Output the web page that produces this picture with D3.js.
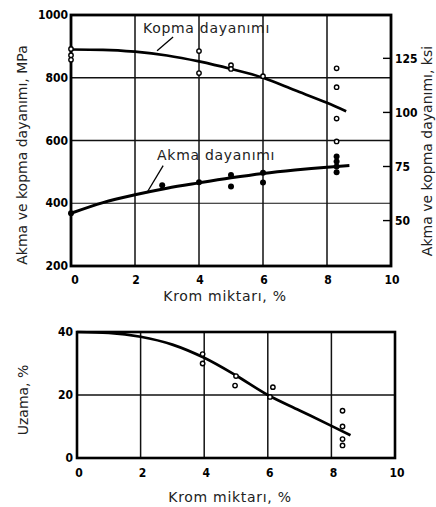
<!DOCTYPE html>
<html>
<head>
<meta charset="utf-8">
<script src="https://cdn.jsdelivr.net/npm/d3@7"></script>
<style>
  body { margin: 0; background: #fff; }
  text { fill: #111; }
  .tick-label { font-family: "DejaVu Sans Condensed", "DejaVu Sans", sans-serif; font-weight: bold; font-size: 12px; fill: #000; }
  .title { font-family: "DejaVu Sans", sans-serif; font-size: 14px; fill: #222; }
  .wide { letter-spacing: 0.7px; }
</style>
</head>
<body>
<script>
const w = 436;
const h = 507;

// x ticks shared by both panels (Krom miktarı, %)
const xTicks = [0, 2, 4, 6, 8, 10];
const strengthTicks = [200, 400, 600, 800, 1000];
const ksiTicks = [50, 75, 100, 125];
const elongTicks = [0, 20, 40];

// Kopma dayanımı (tensile) curve + points, MPa
const tensileCurveX = [0, 1, 2, 3, 4, 5, 6, 7, 8, 8.6];
const tensileCurveY = [890, 889, 883, 871, 852, 828, 800, 760, 720, 693];
const tensilePtsX = [0, 0, 0, 4, 4, 5, 5, 6, 8.3, 8.3, 8.3, 8.3];
const tensilePtsY = [892, 872, 857, 885, 815, 840, 828, 805, 830, 770, 670, 597];

// Akma dayanımı (yield) curve + points, MPa
const yieldCurveX = [0, 1, 2, 3, 4, 5, 6, 7, 8, 8.7];
const yieldCurveY = [368, 402, 427, 448, 465, 481, 495, 506, 515, 520];
const yieldPtsX = [0, 2.85, 4, 5, 5, 6, 6, 8.3, 8.3, 8.3, 8.3];
const yieldPtsY = [368, 457, 467, 490, 453, 497, 466, 549, 533, 517, 499];

// Uzama (elongation) curve + points, %
const elongCurveX = [0, 1, 2, 3, 4, 5, 6, 7, 8, 8.6];
const elongCurveY = [40, 39.7, 38.5, 36, 31.8, 26.2, 20, 15.1, 10.2, 7.2];
const elongPtsX = [3.95, 3.95, 5, 4.97, 6.07, 6.16, 8.35, 8.35, 8.35, 8.35];
const elongPtsY = [33, 30, 26, 23, 19.4, 22.5, 15, 10, 6, 4];

const MPA_PER_KSI = 6.895;

let svg = d3.select("body")
            .append("svg")
            .attr("width", w)
            .attr("height", h);

function zip(xs, ys) { return xs.map((v, i) => [v, ys[i]]); }

// ---------- upper panel ----------
let x1 = d3.scaleLinear().domain([0, 10]).range([71, 391]);
let y1 = d3.scaleLinear().domain([200, 1000]).range([266, 15]);

let upper = svg.append("g");

// grid
upper.selectAll(".vg").data([2, 4, 6, 8]).enter().append("line")
   .attr("x1", d => x1(d)).attr("x2", d => x1(d))
   .attr("y1", y1(1000)).attr("y2", y1(200))
   .attr("stroke", "#111").attr("stroke-width", 1.5);
upper.selectAll(".hg").data([400, 600, 800]).enter().append("line")
   .attr("x1", x1(0)).attr("x2", x1(10))
   .attr("y1", d => y1(d)).attr("y2", d => y1(d))
   .attr("stroke", "#111").attr("stroke-width", d => d === 400 ? 1 : 1.5);

// frame
upper.append("rect")
   .attr("x", x1(0)).attr("y", y1(1000))
   .attr("width", x1(10) - x1(0)).attr("height", y1(200) - y1(1000))
   .attr("fill", "none").attr("stroke", "#000").attr("stroke-width", 2.8);

// ksi ticks on right side
upper.selectAll(".kt").data(ksiTicks).enter().append("line")
   .attr("x1", x1(10) - 8).attr("x2", x1(10))
   .attr("y1", d => y1(d * MPA_PER_KSI)).attr("y2", d => y1(d * MPA_PER_KSI))
   .attr("stroke", "#000").attr("stroke-width", 1.4);
upper.selectAll(".kl").data(ksiTicks).enter().append("text")
   .attr("class", "tick-label")
   .attr("x", x1(10) + 4).attr("y", d => y1(d * MPA_PER_KSI))
   .attr("dy", "0.35em")
   .text(d => d);

// left tick labels
upper.selectAll(".sl").data(strengthTicks).enter().append("text")
   .attr("class", "tick-label")
   .attr("x", x1(0) - 3).attr("y", d => y1(d))
   .attr("dy", "0.35em").attr("text-anchor", "end")
   .text(d => d);

// x tick labels
upper.selectAll(".xl").data(xTicks).enter().append("text")
   .attr("class", "tick-label")
   .attr("x", d => x1(d) + (d === 0 ? 4 : 1)).attr("y", 284)
   .attr("text-anchor", "middle")
   .text(d => d);

upper.append("text").attr("class", "title wide")
   .attr("x", 225).attr("y", 301).attr("text-anchor", "middle")
   .text("Krom miktarı, %");

upper.append("text").attr("class", "title")
   .attr("transform", "translate(27,155) rotate(-90)")
   .attr("text-anchor", "middle")
   .text("Akma ve kopma dayanımı, MPa");

upper.append("text").attr("class", "title")
   .attr("transform", "translate(432,151) rotate(-90)")
   .attr("text-anchor", "middle")
   .text("Akma ve kopma dayanımı, ksi");

let line1 = d3.line().x(d => x1(d[0])).y(d => y1(d[1])).curve(d3.curveMonotoneX);

upper.append("path").datum(zip(tensileCurveX, tensileCurveY))
   .attr("d", line1).attr("fill", "none").attr("stroke", "#000").attr("stroke-width", 2.7);
upper.append("path").datum(zip(yieldCurveX, yieldCurveY))
   .attr("d", line1).attr("fill", "none").attr("stroke", "#000").attr("stroke-width", 3);

upper.selectAll(".tp").data(zip(tensilePtsX, tensilePtsY)).enter().append("circle")
   .attr("cx", d => x1(d[0])).attr("cy", d => y1(d[1])).attr("r", 2.2)
   .attr("fill", "#fff").attr("stroke", "#000").attr("stroke-width", 1.4);
upper.selectAll(".yp").data(zip(yieldPtsX, yieldPtsY)).enter().append("circle")
   .attr("cx", d => x1(d[0])).attr("cy", d => y1(d[1])).attr("r", 3)
   .attr("fill", "#000");

// annotations
upper.append("text").attr("class", "title wide")
   .attr("x", x1(2.25)).attr("y", y1(942)).text("Kopma dayanımı");
upper.append("line")
   .attr("x1", x1(3.19)).attr("y1", y1(930)).attr("x2", x1(2.69)).attr("y2", y1(886))
   .attr("stroke", "#000").attr("stroke-width", 1.3);
upper.append("text").attr("class", "title wide")
   .attr("x", x1(2.69)).attr("y", y1(537)).text("Akma dayanımı");
upper.append("line")
   .attr("x1", x1(2.88)).attr("y1", y1(520)).attr("x2", x1(2.38)).attr("y2", y1(435))
   .attr("stroke", "#000").attr("stroke-width", 1.3);

// ---------- lower panel ----------
let x2 = d3.scaleLinear().domain([0, 10]).range([77, 395]);
let y2 = d3.scaleLinear().domain([0, 40]).range([458, 332]);

let lower = svg.append("g");

lower.selectAll(".vg").data([2, 4, 6, 8]).enter().append("line")
   .attr("x1", d => x2(d)).attr("x2", d => x2(d))
   .attr("y1", y2(40)).attr("y2", y2(0))
   .attr("stroke", "#111").attr("stroke-width", 1.5);
lower.append("line")
   .attr("x1", x2(0)).attr("x2", x2(10)).attr("y1", y2(20)).attr("y2", y2(20))
   .attr("stroke", "#111").attr("stroke-width", 1.5);
lower.append("rect")
   .attr("x", x2(0)).attr("y", y2(40))
   .attr("width", x2(10) - x2(0)).attr("height", y2(0) - y2(40))
   .attr("fill", "none").attr("stroke", "#000").attr("stroke-width", 2.6);

lower.selectAll(".el").data(elongTicks).enter().append("text")
   .attr("class", "tick-label")
   .attr("x", x2(0) - 4).attr("y", d => y2(d))
   .attr("dy", "0.35em").attr("text-anchor", "end")
   .text(d => d);
lower.selectAll(".xl").data(xTicks).enter().append("text")
   .attr("class", "tick-label")
   .attr("x", d => x2(d) + 2).attr("y", 477)
   .attr("text-anchor", "middle")
   .text(d => d);

lower.append("text").attr("class", "title wide")
   .attr("x", 230).attr("y", 502).attr("text-anchor", "middle")
   .text("Krom miktarı, %");
lower.append("text").attr("class", "title")
   .attr("transform", "translate(28,400) rotate(-90)")
   .attr("text-anchor", "middle")
   .text("Uzama, %");

let line2 = d3.line().x(d => x2(d[0])).y(d => y2(d[1])).curve(d3.curveMonotoneX);
lower.append("path").datum(zip(elongCurveX, elongCurveY))
   .attr("d", line2).attr("fill", "none").attr("stroke", "#000").attr("stroke-width", 2.7);
lower.selectAll(".ep").data(zip(elongPtsX, elongPtsY)).enter().append("circle")
   .attr("cx", d => x2(d[0])).attr("cy", d => y2(d[1])).attr("r", 2.2)
   .attr("fill", "#fff").attr("stroke", "#000").attr("stroke-width", 1.4);
</script>
</body>
</html>
